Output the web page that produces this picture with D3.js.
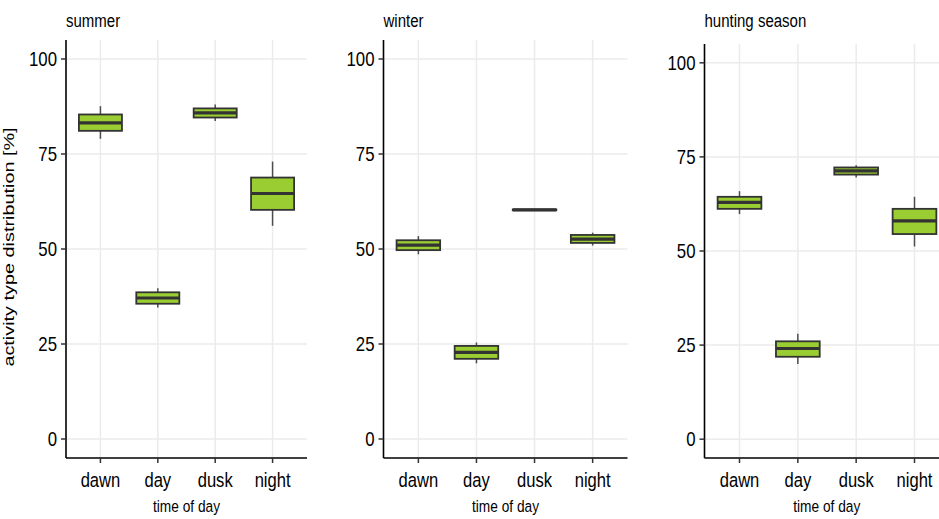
<!DOCTYPE html>
<html>
<head>
<meta charset="utf-8">
<script src="https://cdn.jsdelivr.net/npm/d3@7"></script>
<style>
  body { margin: 0; background: #fff; }
  text { font-family: "Liberation Sans", Arial, sans-serif; }
</style>
</head>
<body>
<svg id="chart"></svg>
<script>
// categories and panels
var categories = ["dawn", "day", "dusk", "night"];
var seasons = ["summer", "winter", "hunting season"];
var yTicks = [0, 25, 50, 75, 100];

// box stats per category: [lower whisker, q1, median, q3, upper whisker]
var summerStats = [
  [79.0, 81.1, 83.2, 85.4, 87.6],
  [34.6, 35.6, 37.1, 38.6, 39.7],
  [83.7, 84.6, 85.8, 87.0, 88.0],
  [56.1, 60.3, 64.6, 68.8, 73.0]
];
var winterStats = [
  [48.6, 49.7, 51.0, 52.3, 53.4],
  [19.9, 21.1, 22.8, 24.5, 25.4],
  [60.2, 60.2, 60.3, 60.4, 60.4],
  [50.9, 51.6, 52.6, 53.7, 54.3]
];
var huntingStats = [
  [59.8, 61.2, 62.9, 64.4, 65.9],
  [20.0, 21.9, 24.1, 26.0, 28.0],
  [69.5, 70.3, 71.3, 72.2, 72.8],
  [51.2, 54.5, 58.0, 61.2, 64.4]
];
var allStats = [summerStats, winterStats, huntingStats];

var width = 939, height = 519;
var svg = d3.select("#chart").attr("width", width).attr("height", height);

// panel frames (left axis x, right end, top, bottom)
var frames = [
  { x0: 66, x1: 307, y0: 40, y1: 458 },
  { x0: 383.5, x1: 627.5, y0: 40, y1: 458 },
  { x0: 704.5, x1: 949.5, y0: 44, y1: 458 }
];

// text in the original looks horizontally squeezed
function squeezedText(g, x, y, str, size, anchor, sx) {
  return g.append("text")
      .attr("transform", "translate(" + x + "," + y + ") scale(" + sx + ",1)")
      .attr("text-anchor", anchor)
      .attr("font-size", size)
      .attr("fill", "#000")
      .text(str);
}

seasons.forEach(function(season, i) {
  var f = frames[i];
  var stats = allStats[i];
  var g = svg.append("g");

  var y = d3.scaleLinear().domain([-5, 105]).range([f.y1, f.y0]);
  // ggplot-style discrete expansion of 0.6 on each side
  var step = (f.x1 - f.x0) / (categories.length + 0.2);
  var x = function(k) { return f.x0 + step * (0.6 + k); };

  // grid
  g.selectAll("line.hgrid").data(yTicks).enter().append("line")
      .attr("x1", f.x0).attr("x2", f.x1)
      .attr("y1", function(d) { return y(d); })
      .attr("y2", function(d) { return y(d); })
      .attr("stroke", "#ebebeb").attr("stroke-width", 1.5);
  g.selectAll("line.vgrid").data(categories).enter().append("line")
      .attr("x1", function(d, k) { return x(k); })
      .attr("x2", function(d, k) { return x(k); })
      .attr("y1", f.y0).attr("y2", f.y1)
      .attr("stroke", "#ebebeb").attr("stroke-width", 1.5);

  // boxes
  var bw = step * 0.75;
  var box = g.selectAll("g.box").data(stats).enter().append("g");
  box.append("line")
      .attr("x1", function(d, k) { return x(k); })
      .attr("x2", function(d, k) { return x(k); })
      .attr("y1", function(d) { return y(d[0]); })
      .attr("y2", function(d) { return y(d[4]); })
      .attr("stroke", "#4d4d4d").attr("stroke-width", 1.5);
  box.append("rect")
      .attr("x", function(d, k) { return x(k) - bw / 2; })
      .attr("width", bw)
      .attr("y", function(d) { return y(d[3]); })
      .attr("height", function(d) { return Math.max(0.5, y(d[1]) - y(d[3])); })
      .attr("fill", "#9acd32")
      .attr("stroke", "#333333").attr("stroke-width", 1.8);
  box.append("line")
      .attr("x1", function(d, k) { return x(k) - bw / 2; })
      .attr("x2", function(d, k) { return x(k) + bw / 2; })
      .attr("y1", function(d) { return y(d[2]); })
      .attr("y2", function(d) { return y(d[2]); })
      .attr("stroke", "#333333").attr("stroke-width", 3.2);

  // axes
  g.append("line").attr("x1", f.x0).attr("x2", f.x0)
      .attr("y1", f.y0).attr("y2", f.y1)
      .attr("stroke", "#000").attr("stroke-width", 1.6);
  g.append("line").attr("x1", f.x0).attr("x2", f.x1)
      .attr("y1", f.y1).attr("y2", f.y1)
      .attr("stroke", "#000").attr("stroke-width", 1.6);

  yTicks.forEach(function(t) {
    g.append("line").attr("x1", f.x0 - 5).attr("x2", f.x0)
        .attr("y1", y(t)).attr("y2", y(t))
        .attr("stroke", "#333").attr("stroke-width", 1.5);
    squeezedText(g, f.x0 - 9, y(t) + 7, t, 20, "end", 0.84);
  });
  categories.forEach(function(c, k) {
    g.append("line").attr("x1", x(k)).attr("x2", x(k))
        .attr("y1", f.y1).attr("y2", f.y1 + 5)
        .attr("stroke", "#333").attr("stroke-width", 1.5);
    squeezedText(g, x(k), 487, c, 19.5, "middle", 0.85);
  });

  squeezedText(g, (f.x0 + Math.min(f.x1, 947)) / 2 + (i === 2 ? 1 : 0), 512, "time of day", 16.5, "middle", 0.83);
  squeezedText(g, f.x0, 27, season, 19, "start", 0.79);
});

svg.append("text")
    .attr("transform", "translate(14,247) rotate(-90) scale(1.28,1)")
    .attr("text-anchor", "middle")
    .attr("font-size", 15.5)
    .attr("fill", "#000")
    .text("activity type distribution [%]");
</script>
</body>
</html>
